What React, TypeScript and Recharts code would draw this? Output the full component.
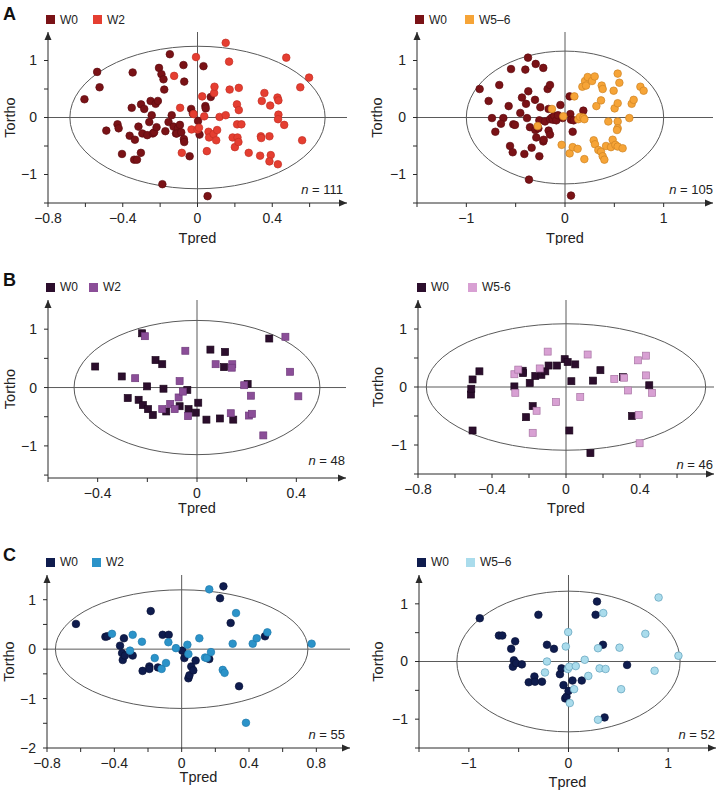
import React from 'react';
import {
  ScatterChart,
  Scatter,
  XAxis,
  YAxis,
  ReferenceLine,
  ReferenceArea,
  ReferenceDot,
  Label,
} from 'recharts';

type Pt = [number, number];

// ---- Panel A (left): W0 vs W2 ----
const aLeftW0: Pt[] = [
  [-0.605, 0.32], [-0.537, 0.8], [-0.524, 0.53], [-0.488, -0.23], [-0.428, -0.12], [-0.422, -0.19],
  [-0.404, -0.64], [-0.363, -0.32], [-0.352, 0.17], [-0.347, 0.79], [-0.335, -0.39], [-0.339, -0.74],
  [-0.324, -0.74], [-0.316, -0.16], [-0.303, -0.62], [-0.302, 0.23], [-0.285, 0.15], [-0.295, -0.28],
  [-0.269, -0.31], [-0.251, 0.29], [-0.245, 0.04], [-0.239, -0.28], [-0.258, -0.08], [-0.232, -0.26],
  [-0.224, 0.24], [-0.212, 0.29], [-0.219, -0.17], [-0.206, 0.87], [-0.193, 0.76], [-0.182, 0.67],
  [-0.178, 0.49], [-0.188, -1.17], [-0.172, -0.24], [-0.155, -0.08], [-0.148, 1.11], [-0.138, 0.04],
  [-0.128, -0.16], [-0.115, -0.28], [-0.105, -0.19], [-0.11, -0.28], [-0.094, -0.13], [-0.087, -0.26],
  [-0.075, 0.92], [-0.071, 0.63], [-0.073, -0.38], [-0.071, -0.43], [-0.042, -0.68], [-0.034, 0.15],
  [-0.025, 0.07], [0.003, -0.06], [0.011, -0.3], [0.032, 0.9], [0.042, 0.2], [0.044, 0.16],
  [0.071, 0.36], [0.054, -1.38],
];
const aLeftW2: Pt[] = [
  [0.151, 1.31], [-0.008, 1.06], [-0.125, 0.73], [-0.093, 0.17], [-0.084, -0.62], [-0.032, -0.21],
  [-0.021, 0.06], [0.0, -0.21], [0.008, -0.18], [0.025, 0.37], [0.05, -0.59], [0.059, -0.25],
  [0.062, -0.35], [0.089, 0.43], [0.091, 0.54], [0.086, -0.29], [0.1, -0.4], [0.105, -0.22],
  [0.118, 0.01], [0.151, 0.04], [0.169, 0.98], [0.172, 0.49], [0.188, -0.35], [0.2, -0.52],
  [0.211, 0.23], [0.221, 0.52], [0.221, 0.13], [0.212, -0.12], [0.235, -0.12], [0.214, -0.35],
  [0.219, -0.43], [0.274, -0.62], [0.335, -0.67], [0.339, -0.33], [0.341, -0.36], [0.344, 0.29],
  [0.358, 0.43], [0.385, -0.33], [0.389, 0.21], [0.392, -0.66], [0.385, -0.77], [0.428, 0.35],
  [0.433, 0.3], [0.433, 0.05], [0.431, -0.03], [0.43, -0.82], [0.464, -0.13], [0.475, 1.05],
  [0.55, 0.53], [0.56, -0.4], [0.597, 0.7], [0.036, 0.02],
];

// ---- Panel A (right): W0 vs W5-6 ----
const aRightW0: Pt[] = [
  [-0.865, 0.5], [-0.774, 0.29], [-0.74, -0.01], [-0.666, 0.57], [-0.625, -0.01], [-0.649, -0.11],
  [-0.706, -0.25], [-0.571, 0.2], [-0.547, 0.85], [-0.557, -0.5], [-0.53, -0.61], [-0.524, -0.12],
  [-0.507, -0.13], [-0.453, 0.08], [-0.436, 0.35], [-0.412, -0.64], [-0.402, 0.84], [-0.395, 0.24],
  [-0.385, -0.01], [-0.375, 1.05], [-0.372, 0.46], [-0.355, -0.17], [-0.338, -0.53], [-0.365, -1.09],
  [-0.297, 0.94], [-0.304, 0.31], [-0.301, -0.22], [-0.291, -0.35], [-0.27, -0.19], [-0.26, -0.68],
  [-0.26, -0.05], [-0.25, 0.18], [-0.22, 0.87], [-0.22, -0.42], [-0.216, -0.39], [-0.203, -0.07],
  [-0.176, 0.5], [-0.152, 0.57], [-0.166, 0.15], [-0.166, -0.23], [-0.152, -0.3], [-0.152, -0.03],
  [-0.132, 0.0], [-0.122, -0.04], [-0.108, 0.03], [-0.088, -0.05], [-0.071, 0.04], [-0.047, 0.22],
  [-0.024, -0.01], [0.047, 0.37], [0.054, 0.06], [0.061, -0.04], [0.078, -0.25], [0.088, -0.05],
  [0.186, 0.12], [0.061, -1.37],
];
const aRightW56: Pt[] = [
  [-0.132, 0.15], [-0.277, -0.15], [-0.017, 0.02], [0.095, 0.37], [-0.034, -0.48], [0.047, -0.63],
  [0.078, -0.52], [0.128, -0.55], [0.135, -0.03], [0.152, 0.01], [0.176, 0.54], [0.186, 0.0],
  [0.196, -0.03], [0.203, 0.64], [0.213, 0.56], [0.196, -0.73], [0.23, 0.71], [0.274, 0.64],
  [0.301, 0.72], [0.291, -0.4], [0.304, -0.47], [0.318, 0.2], [0.338, -0.57], [0.365, 0.3],
  [0.372, 0.56], [0.382, 0.5], [0.365, -0.6], [0.382, -0.68], [0.399, -0.74], [0.439, -0.07],
  [0.416, -0.5], [0.466, -0.52], [0.493, 0.47], [0.483, -0.39], [0.503, 0.16], [0.51, -0.48],
  [0.534, 0.77], [0.534, 0.25], [0.534, -0.07], [0.534, -0.19], [0.534, -0.51], [0.551, 0.61],
  [0.584, -0.54], [0.652, -0.01], [0.676, 0.24], [0.696, 0.31], [0.764, 0.54], [0.797, 0.47],
  [0.527, -0.22],
];

// ---- Panel B (left): W0 vs W2 ----
const bLeftW0: Pt[] = [
  [-0.41, 0.36], [-0.303, 0.19], [-0.279, -0.18], [-0.235, -0.21], [-0.221, 0.93], [-0.218, -0.3],
  [-0.201, 0.02], [-0.197, -0.37], [-0.178, -0.47], [-0.167, 0.47], [-0.14, 0.4], [-0.135, -0.02],
  [-0.124, -0.41], [-0.07, -0.32], [-0.039, -0.04], [-0.034, -0.37], [-0.005, -0.43], [0.005, -0.26],
  [0.038, -0.55], [0.054, 0.65], [0.092, -0.53], [0.109, 0.35], [0.113, 0.61], [0.146, -0.55],
  [0.204, 0.06], [0.291, 0.84],
];
const bLeftW2: Pt[] = [
  [-0.249, 0.16], [-0.21, 0.88], [-0.14, -0.37], [-0.108, -0.28], [-0.09, -0.37], [-0.07, 0.11],
  [-0.074, -0.17], [-0.057, -0.07], [-0.047, 0.63], [-0.036, -0.49], [0.075, 0.4], [0.142, 0.4],
  [0.14, 0.34], [0.136, -0.44], [0.19, 0.04], [0.209, -0.48], [0.221, -0.45], [0.217, -0.14],
  [0.267, -0.82], [0.356, 0.87], [0.375, 0.27], [0.408, -0.15],
];

// ---- Panel B (right): W0 vs W5-6 ----
const bRightW0: Pt[] = [
  [-0.514, -0.13], [-0.512, -0.03], [-0.505, 0.13], [-0.468, 0.27], [-0.505, -0.75], [-0.279, 0.01],
  [-0.234, 0.28], [-0.232, 0.24], [-0.216, -0.52], [-0.196, 0.07], [-0.18, -0.33], [-0.166, 0.19],
  [-0.133, 0.21], [-0.112, 0.27], [-0.094, 0.37], [-0.049, 0.37], [-0.007, 0.48], [0.009, 0.43],
  [0.018, -0.75], [0.029, 0.1], [0.05, 0.39], [0.132, -1.14], [0.146, 0.11], [0.186, 0.29],
  [0.308, 0.17], [0.357, -0.5], [0.45, 0.03],
];
const bRightW56: Pt[] = [
  [-0.279, 0.22], [-0.274, -0.1], [-0.258, 0.3], [-0.18, -0.79], [-0.159, -0.41], [-0.142, 0.32],
  [-0.099, 0.61], [-0.054, -0.26], [0.077, -0.17], [0.117, 0.56], [0.261, 0.14], [0.314, 0.16],
  [0.335, -0.06], [0.389, 0.46], [0.393, -0.48], [0.398, -0.97], [0.432, 0.2], [0.432, 0.54],
  [0.465, -0.1],
];

// ---- Panel C (left): W0 vs W2 ----
const cLeftW0: Pt[] = [
  [-0.628, 0.51], [-0.453, 0.25], [-0.442, 0.26], [-0.366, 0.07], [-0.343, 0.22], [-0.354, -0.08],
  [-0.35, -0.22], [-0.337, -0.13], [-0.291, -0.13], [-0.232, -0.44], [-0.192, -0.35], [-0.184, 0.77],
  [-0.192, -0.4], [-0.141, -0.37], [-0.113, 0.29], [-0.077, 0.29], [0.004, -0.03], [0.016, -0.18],
  [0.04, -0.59], [0.046, -0.53], [0.057, -0.35], [0.069, -0.43], [0.083, -0.23], [0.164, -0.2],
  [0.228, 1.03], [0.248, 1.27], [0.291, 0.53], [0.341, -0.75], [0.495, 0.26],
];
const cLeftW2: Pt[] = [
  [-0.414, 0.31], [-0.307, -0.03], [-0.291, 0.29], [-0.236, 0.15], [-0.16, -0.18], [-0.119, -0.4],
  [-0.093, -0.28], [-0.079, 0.14], [-0.034, 0.02], [0.034, 0.09], [0.04, -0.1], [0.105, 0.22],
  [0.139, -0.17], [0.149, -0.18], [0.174, -0.06], [0.164, 1.21], [0.244, -0.42], [0.255, -0.48],
  [0.303, 0.11], [0.323, 0.73], [0.382, -1.49], [0.422, 0.11], [0.446, 0.22], [0.509, 0.34],
  [0.772, 0.11],
];

// ---- Panel C (right): W0 vs W5-6 ----
const cRightW0: Pt[] = [
  [-0.89, 0.75], [-0.698, 0.45], [-0.664, 0.45], [-0.575, 0.22], [-0.535, 0.35], [-0.548, 0.02],
  [-0.558, -0.09], [-0.525, -0.03], [-0.468, -0.05], [-0.399, -0.36], [-0.342, -0.26], [-0.336, -0.35],
  [-0.302, 0.81], [-0.266, -0.35], [-0.216, 0.29], [-0.146, 0.22], [-0.086, -0.22], [-0.07, -0.12],
  [-0.05, -0.41], [-0.033, -0.64], [-0.02, -0.61], [0.0, -0.51], [0.04, -0.33], [0.133, -0.33],
  [0.272, 0.81], [0.286, 1.04], [0.346, 0.29], [0.362, -0.97], [0.588, -0.06],
];
const cRightW56: Pt[] = [
  [-0.216, 0.0], [-0.236, -0.19], [-0.027, 0.26], [-0.003, 0.51], [-0.007, -0.13], [0.007, -0.09],
  [0.013, -0.72], [0.056, -0.48], [0.073, -0.08], [0.163, 0.03], [0.199, -0.25], [0.296, 0.23],
  [0.296, -1.01], [0.312, -0.12], [0.349, 0.84], [0.372, -0.13], [0.512, 0.24], [0.528, -0.48],
  [0.771, 0.48], [0.864, -0.16], [0.904, 1.11], [1.103, 0.1],
];

// ---- axis ticks ----
const ticksX08 = [-0.8, -0.6, -0.4, -0.2, 0, 0.2, 0.4, 0.6];
const labelsX08 = [-0.8, -0.4, 0, 0.4];
const ticksX15 = [-1.5, -1, -0.5, 0, 0.5, 1];
const labelsX15 = [-1, 0, 1];
const ticksX06 = [-0.6, -0.4, -0.2, 0, 0.2, 0.4];
const labelsX06 = [-0.4, 0, 0.4];
const ticksXC = [-0.8, -0.6, -0.4, -0.2, 0, 0.2, 0.4, 0.6, 0.8];
const labelsXC = [-0.8, -0.4, 0, 0.4, 0.8];
const ticksY15 = [-1.5, -1, -0.5, 0, 0.5, 1];
const labelsY15 = [-1, 0, 1];
const ticksY2 = [-2, -1.5, -1, -0.5, 0, 0.5, 1];
const labelsY2 = [-2, -1, 0, 1];

const FONT = '"Liberation Sans", Arial, Helvetica, sans-serif';
const AXIS = '#2a2a2a';
const GUIDE = '#5a5a5a';

const fmt = (v: number) => (v < 0 ? '\u2212' + Math.abs(v) : String(v));
const has = (list: number[], v: number) => list.some((l) => Math.abs(l - v) < 1e-6);

interface Group {
  name: string;
  data: Pt[];
  fill: string;
  stroke: string;
}

interface PanelCfg {
  plot: { left: number; right: number; top: number; bottom: number };
  xDomain: [number, number];
  yDomain: [number, number];
  xTicks: number[];
  xLabels: number[];
  yTicks: number[];
  yLabels: number[];
  ellipse: [number, number];
  groups: Group[];
  square?: boolean;
  n: number;
  nRight: number;
  nY: number;
  legendX: number[];
  legendY: number;
  tpredOffset: number;
  torthoX: number;
}

const panels: PanelCfg[] = [
  {
    plot: { left: 48, right: 347, top: 32, bottom: 203 },
    xDomain: [-0.8, 0.8], yDomain: [-1.5, 1.5],
    xTicks: ticksX08, xLabels: labelsX08, yTicks: ticksY15, yLabels: labelsY15,
    ellipse: [0.683, 1.25],
    groups: [
      { name: 'W0', data: aLeftW0, fill: '#7a1216', stroke: '#5e0c10' },
      { name: 'W2', data: aLeftW2, fill: '#e53e31', stroke: '#c42f24' },
    ],
    n: 111, nRight: 343, nY: 190, legendX: [46, 93], legendY: 19.5, tpredOffset: 2, torthoX: 10,
  },
  {
    plot: { left: 417, right: 713, top: 32, bottom: 203 },
    xDomain: [-1.5, 1.5], yDomain: [-1.5, 1.5],
    xTicks: ticksX15, xLabels: labelsX15, yTicks: ticksY15, yLabels: labelsY15,
    ellipse: [1.0, 1.165],
    groups: [
      { name: 'W0', data: aRightW0, fill: '#7a1216', stroke: '#5e0c10' },
      { name: 'W5\u20136', data: aRightW56, fill: '#f6a437', stroke: '#cf8424' },
    ],
    n: 105, nRight: 713, nY: 190, legendX: [415, 465], legendY: 19.5, tpredOffset: 2, torthoX: 377,
  },
  {
    plot: { left: 48, right: 346, top: 300, bottom: 478 },
    xDomain: [-0.6, 0.6], yDomain: [-1.55, 1.5],
    xTicks: ticksX06, xLabels: labelsX06, yTicks: ticksY15, yLabels: labelsY15,
    ellipse: [0.495, 1.15],
    groups: [
      { name: 'W0', data: bLeftW0, fill: '#2c0e2d', stroke: '#1d081e' },
      { name: 'W2', data: bLeftW2, fill: '#8b4e98', stroke: '#6f3a7c' },
    ],
    square: true,
    n: 48, nRight: 345, nY: 461, legendX: [46, 89], legendY: 287, tpredOffset: 7, torthoX: 10,
  },
  {
    plot: { left: 418, right: 714, top: 300, bottom: 474 },
    xDomain: [-0.8, 0.8], yDomain: [-1.5, 1.5],
    xTicks: ticksX08, xLabels: labelsX08, yTicks: ticksY15, yLabels: labelsY15,
    ellipse: [0.755, 1.09],
    groups: [
      { name: 'W0', data: bRightW0, fill: '#2c0e2d', stroke: '#1d081e' },
      { name: 'W5-6', data: bRightW56, fill: '#d8a0d3', stroke: '#a874a4' },
    ],
    square: true,
    n: 46, nRight: 713, nY: 465, legendX: [417, 468], legendY: 287, tpredOffset: 3, torthoX: 378,
  },
  {
    plot: { left: 47, right: 350, top: 575, bottom: 748 },
    xDomain: [-0.8, 1.0], yDomain: [-2, 1.5],
    xTicks: ticksXC, xLabels: labelsXC, yTicks: ticksY2, yLabels: labelsY2,
    ellipse: [0.75, 1.2],
    groups: [
      { name: 'W0', data: cLeftW0, fill: '#0f1c4e', stroke: '#09123a' },
      { name: 'W2', data: cLeftW2, fill: '#2b93c9', stroke: '#1f7bad' },
    ],
    n: 55, nRight: 345, nY: 735, legendX: [46, 92], legendY: 562, tpredOffset: 8, torthoX: 9,
  },
  {
    plot: { left: 419, right: 716, top: 575, bottom: 748 },
    xDomain: [-1.5, 1.48], yDomain: [-1.5, 1.5],
    xTicks: ticksX15, xLabels: labelsX15, yTicks: ticksY15, yLabels: labelsY15,
    ellipse: [1.12, 1.22],
    groups: [
      { name: 'W0', data: cRightW0, fill: '#0f1c4e', stroke: '#09123a' },
      { name: 'W5\u20136', data: cRightW56, fill: '#aadcec', stroke: '#5f9fba' },
    ],
    n: 52, nRight: 715, nY: 735, legendX: [417, 466], legendY: 562, tpredOffset: 3, torthoX: 378,
  },
];

const letters = [
  { text: 'A', top: 5 },
  { text: 'B', top: 271 },
  { text: 'C', top: 546 },
];

const M_TOP = 30;
const Y_W = 58;
const X_H = 42;

function Panel({ cfg }: { cfg: PanelCfg }) {
  const { plot } = cfg;
  const chartLeft = plot.left - Y_W;
  const chartTop = plot.top - M_TOP;
  const width = plot.right - plot.left + Y_W + 1;
  const height = plot.bottom - plot.top + M_TOP + X_H;
  const [rx, ry] = cfg.ellipse;

  const tickStyle = { fontSize: 14, fill: '#222', fontFamily: FONT };

  const pointShape = (g: Group) => (p: any) =>
    cfg.square ? (
      <rect x={p.cx - 3.5} y={p.cy - 3.5} width={7} height={7} fill={g.fill} stroke={g.stroke} strokeWidth={0.7} />
    ) : (
      <circle cx={p.cx} cy={p.cy} r={3.8} fill={g.fill} stroke={g.stroke} strokeWidth={0.7} />
    );

  return (
    <>
      <div style={{ position: 'absolute', left: chartLeft, top: chartTop }}>
        <ScatterChart width={width} height={height} margin={{ top: M_TOP, right: 1, bottom: 0, left: 0 }}>
          <XAxis
            type="number"
            dataKey="x"
            domain={cfg.xDomain}
            ticks={cfg.xTicks}
            interval={0}
            allowDataOverflow
            height={X_H}
            tickSize={4}
            tickMargin={6}
            stroke={AXIS}
            tick={tickStyle}
            tickFormatter={(v: number) => (has(cfg.xLabels, v) ? fmt(v) : '')}
          >
            <Label
              value="Tpred"
              position="insideBottom"
              offset={cfg.tpredOffset}
              style={{ fontSize: 14.5, fill: '#222', fontFamily: FONT }}
            />
          </XAxis>
          <YAxis
            type="number"
            dataKey="y"
            domain={cfg.yDomain}
            ticks={cfg.yTicks}
            interval={0}
            allowDataOverflow
            width={Y_W}
            tickSize={4}
            tickMargin={7}
            stroke={AXIS}
            tick={tickStyle}
            tickFormatter={(v: number) => (has(cfg.yLabels, v) ? fmt(v) : '')}
          >
            <Label
              value="Tortho"
              angle={-90}
              position="insideLeft"
              offset={cfg.torthoX - chartLeft}
              style={{ fontSize: 14.5, fill: '#222', fontFamily: FONT, textAnchor: 'middle' }}
            />
          </YAxis>
          <ReferenceArea
            x1={-rx}
            x2={rx}
            y1={-ry}
            y2={ry}
            ifOverflow="visible"
            shape={(p: any) => (
              <ellipse
                cx={p.x + p.width / 2}
                cy={p.y + p.height / 2}
                rx={Math.abs(p.width) / 2}
                ry={Math.abs(p.height) / 2}
                fill="none"
                stroke={GUIDE}
                strokeWidth={1}
              />
            )}
          />
          <ReferenceLine x={0} stroke={GUIDE} strokeWidth={1} />
          <ReferenceLine y={0} stroke={GUIDE} strokeWidth={1} />
          <ReferenceDot
            x={cfg.xDomain[1]}
            y={cfg.yDomain[0]}
            ifOverflow="visible"
            shape={(p: any) => (
              <path d={`M${p.cx},${p.cy} L${p.cx - 8},${p.cy - 3.5} L${p.cx - 8},${p.cy + 3.5} Z`} fill={AXIS} />
            )}
          />
          <ReferenceDot
            x={cfg.xDomain[0]}
            y={cfg.yDomain[1]}
            ifOverflow="visible"
            shape={(p: any) => (
              <path d={`M${p.cx},${p.cy} L${p.cx - 3.5},${p.cy + 8} L${p.cx + 3.5},${p.cy + 8} Z`} fill={AXIS} />
            )}
          />
          {cfg.groups.map((g) => (
            <Scatter
              key={g.name}
              name={g.name}
              data={g.data.map(([x, y]) => ({ x, y }))}
              fill={g.fill}
              shape={pointShape(g)}
              isAnimationActive={false}
            />
          ))}
        </ScatterChart>
      </div>

      {/* legend */}
      {cfg.groups.map((g, i) => (
        <div key={g.name} style={{ position: 'absolute', left: cfg.legendX[i], top: cfg.legendY - 4.5, display: 'flex' }}>
          <div style={{ width: 9, height: 9, background: g.fill }} />
          <div
            style={{
              marginLeft: 5,
              marginTop: -1.5,
              fontSize: 12,
              lineHeight: '12px',
              fontFamily: FONT,
              color: '#222',
              whiteSpace: 'nowrap',
            }}
          >
            {g.name}
          </div>
        </div>
      ))}

      {/* sample size */}
      <div
        style={{
          position: 'absolute',
          right: 717 - cfg.nRight,
          top: cfg.nY - 7,
          fontSize: 13,
          lineHeight: '14px',
          fontFamily: FONT,
          color: '#222',
          whiteSpace: 'nowrap',
        }}
      >
        <i>n</i> = {cfg.n}
      </div>
    </>
  );
}

export default function App() {
  return (
    <div style={{ position: 'absolute', left: 0, top: 0, width: 717, height: 793, background: '#fff', overflow: 'hidden' }}>
      {panels.map((p, i) => (
        <Panel key={i} cfg={p} />
      ))}
      {letters.map((l) => (
        <div
          key={l.text}
          style={{
            position: 'absolute',
            left: 3,
            top: l.top,
            fontSize: 18,
            lineHeight: '18px',
            fontWeight: 700,
            fontFamily: FONT,
            color: '#111',
          }}
        >
          {l.text}
        </div>
      ))}
    </div>
  );
}
